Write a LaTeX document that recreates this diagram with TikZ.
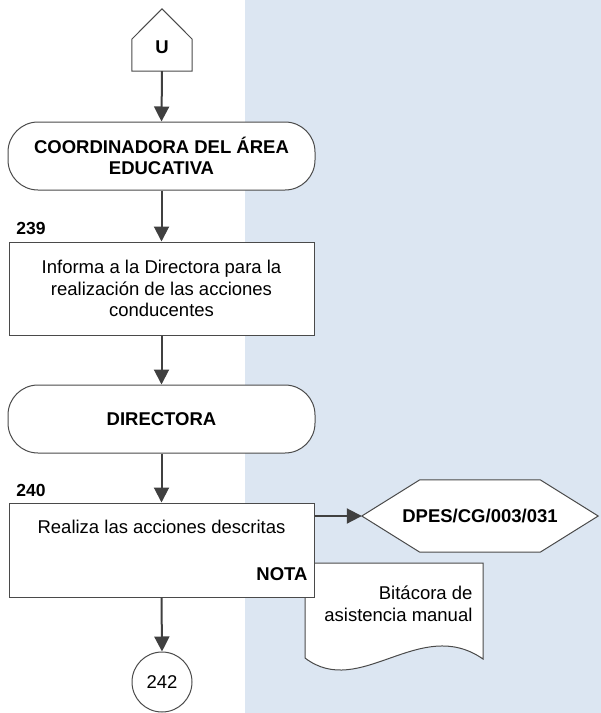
\documentclass[tikz,border=0pt]{standalone}
\usepackage{fontspec}
\setmainfont{Liberation Sans}
\usetikzlibrary{arrows.meta,calc}
\definecolor{lane}{HTML}{DCE6F2}
\definecolor{outline}{HTML}{4A4A4A}
\definecolor{flow}{HTML}{404040}

\begin{document}
\begin{tikzpicture}[x=1pt, y=-1pt,
  font=\fontsize{18.5}{21.5}\selectfont,
  term/.style={draw=outline, line width=1pt, fill=white, rounded corners=30pt,
    minimum width=307pt, minimum height=68pt, align=center, font=\fontsize{18.5}{21.5}\selectfont\bfseries},
  proc/.style={draw=outline, line width=1pt, fill=white, minimum width=305pt, align=center},
  num/.style={font=\fontsize{17.5}{20}\selectfont\bfseries},
  flowline/.style={draw=flow, line width=2pt, -{Triangle[length=15pt, width=15pt]}}]
  \useasboundingbox (0,0) rectangle (601,713);
  \fill[lane] (245,0) rectangle (601,713);

  % off-page connector
  \node[minimum width=60pt, minimum height=48pt, inner sep=0pt,
    font=\fontsize{18.5}{21.5}\selectfont\bfseries] (U) at (162,47) {U};
  \draw[outline, line width=1pt, fill=white]
    (U.south west) -- ($(U.south west)+(0,-32)$) -- ($(U.north)+(0,-14)$)
    -- ($(U.south east)+(0,-32)$) -- (U.south east) -- cycle;
  \node at (U) {\bfseries U};

  \node[term] (coord) at (161.5,156) {COORDINADORA DEL ÁREA\\EDUCATIVA};
  \node[proc, minimum height=93pt] (p239) at (161.5,288.5)
    {Informa a la Directora para la\\realización de las acciones\\conducentes};
  \node[num] (n239) at (31,228) {239};

  \node[term] (dir) at (161.5,419) {DIRECTORA};

  % document behind the activity box
  \draw[outline, line width=1pt, fill=white]
    (305,658) -- (305,563) -- (483,563) -- (483,659)
    .. controls (420,615) and (360,700) .. (305,658);
  \node[anchor=east, align=right] (bitacora) at (476,604)
    {Bitácora de\\asistencia manual};

  \node[proc, minimum height=94pt] (p240) at (161.5,550) {};
  \node (act240) at (161.5,527) {Realiza las acciones descritas};
  \node[anchor=east, font=\fontsize{18.5}{21.5}\selectfont\bfseries] (nota) at (311,574) {NOTA};
  \node[num] (n240) at (31,490) {240};

  \node[minimum width=236pt, minimum height=72pt, inner sep=0pt,
    font=\fontsize{18.5}{21.5}\selectfont\bfseries] (form) at (480,516) {};
  \draw[outline, line width=1pt, fill=white]
    (form.west) -- ($(form.north west)+(58,0)$) -- ($(form.north east)+(-58,0)$)
    -- (form.east) -- ($(form.south east)+(-58,0)$) -- ($(form.south west)+(58,0)$) -- cycle;
  \node[font=\fontsize{18.5}{21.5}\selectfont\bfseries] at (form) {DPES/CG/003/031};

  \node[draw=outline, line width=1pt, fill=white, circle, minimum size=60pt,
    inner sep=0pt] (c242) at (162,682) {242};

  \draw[flowline] (U.south) -- (coord.north);
  \draw[flowline] (coord.south) -- (p239.north);
  \draw[flowline] (p239.south) -- (dir.north);
  \draw[flowline] (dir.south) -- (p240.north);
  \draw[flowline] (p240.east |- form.west) -- (form.west);
  \draw[flowline] (p240.south) -- (c242.north);
\end{tikzpicture}
\end{document}
